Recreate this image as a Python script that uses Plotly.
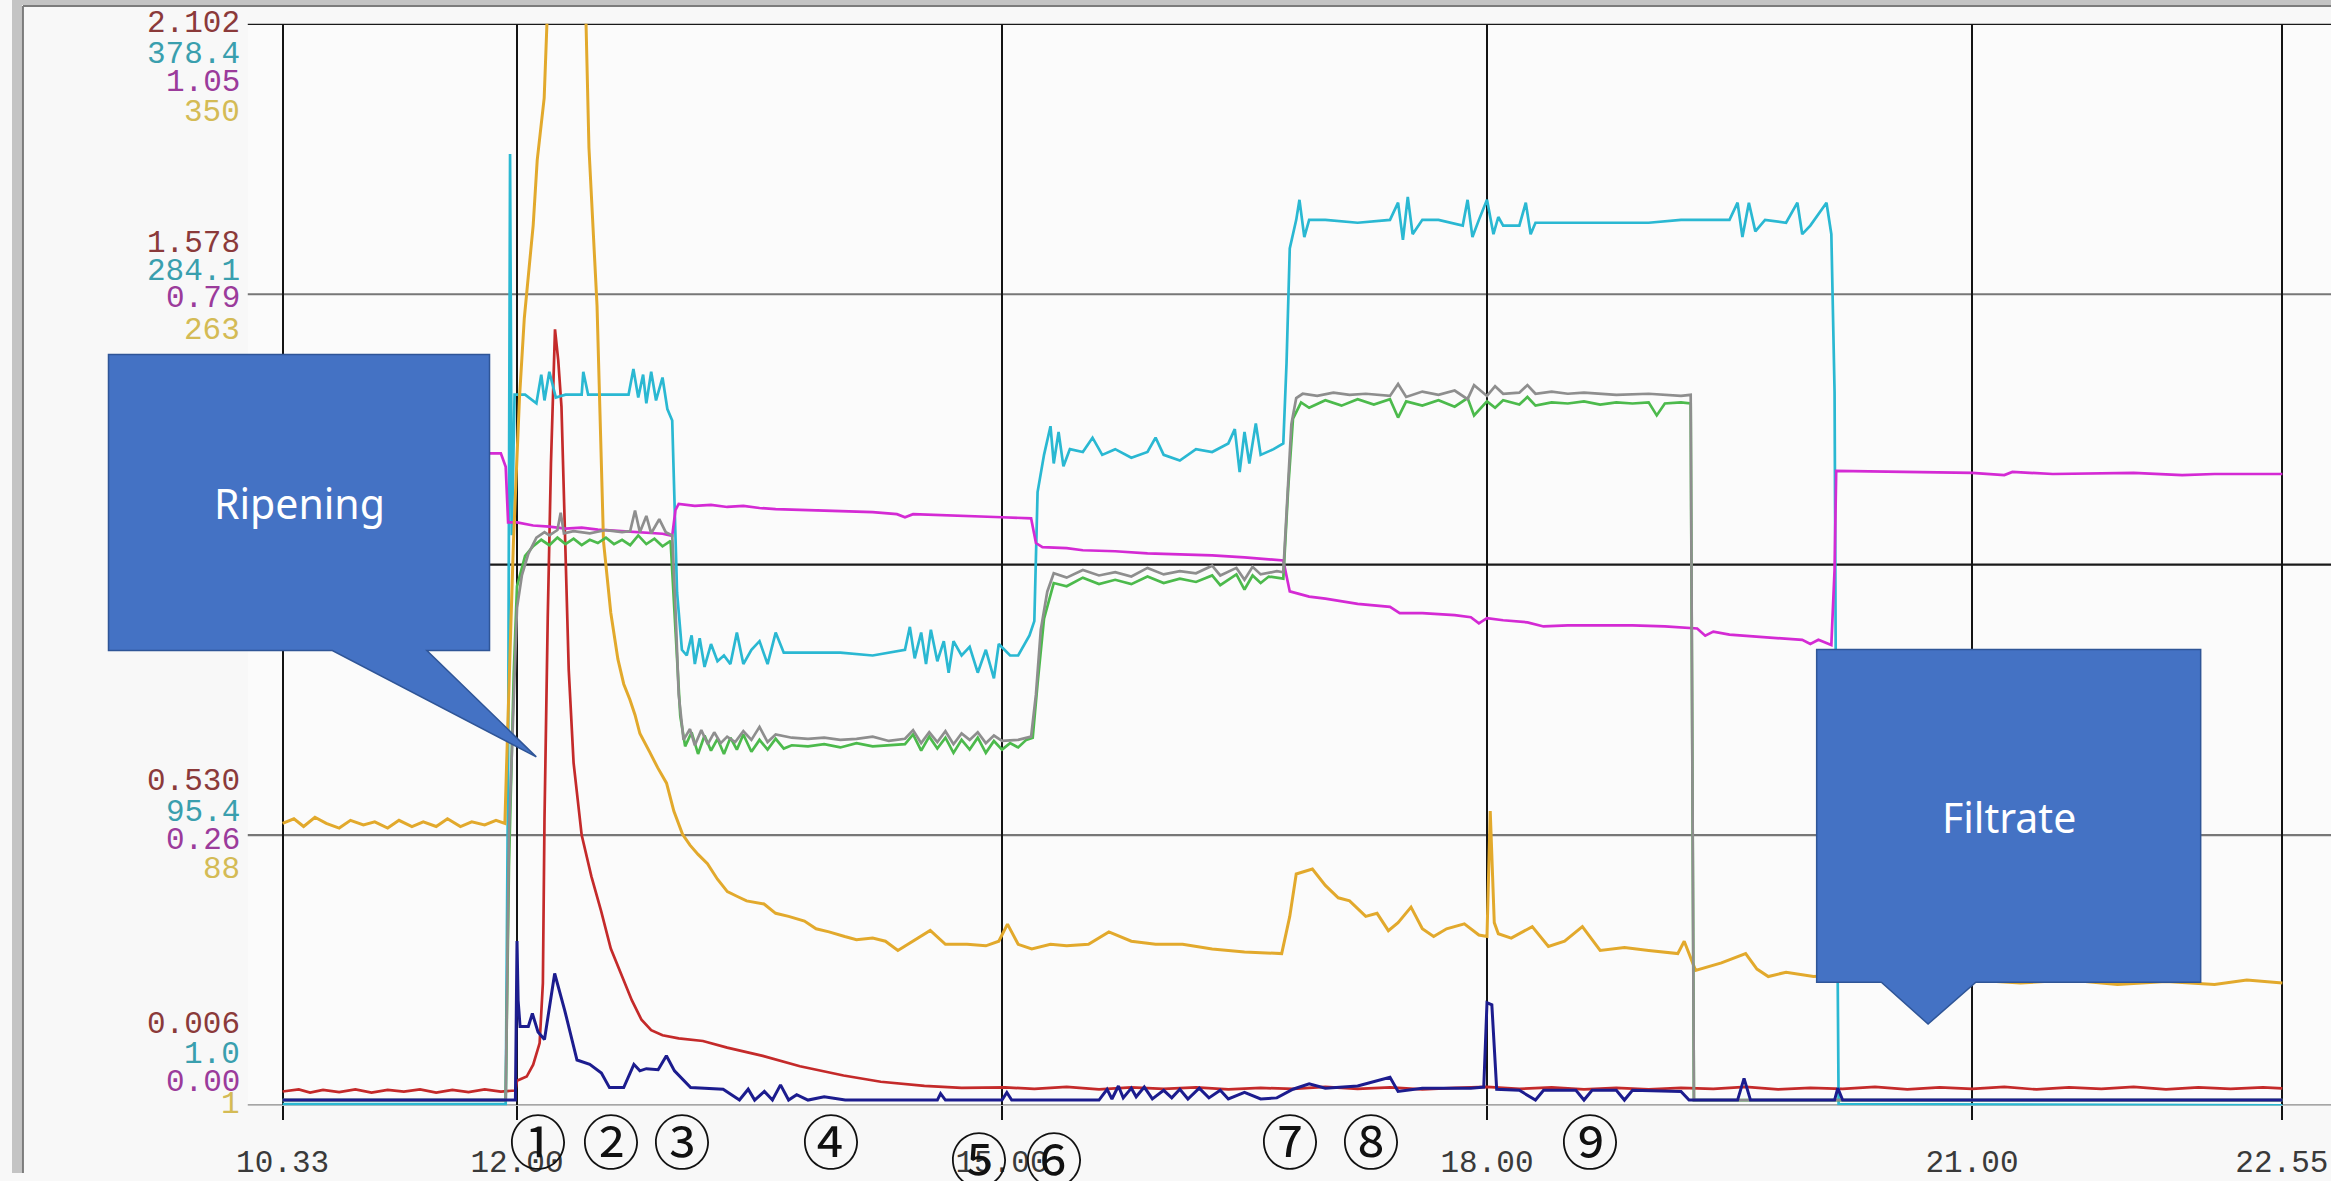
import plotly.graph_objects as go

W, H = 2331, 1181

# ---------------- data ----------------
x_tickvals = [10.55, 12.0, 15.0, 18.0, 21.0, 22.9167]
x_ticktext = ["10.33", "12.00", "15.00", "18.00", "21.00", "22.55"]

red_ticks = [2.102, 1.578, 0.530, 0.006]
red_labels = ["2.102", "1.578", "0.530", "0.006"]
cyan_ticks = [378.4, 284.1, 95.4, 1.0]
cyan_labels = ["378.4", "284.1", "95.4", "1.0"]
mag_ticks = [1.05, 0.79, 0.26, 0.00]
mag_labels = ["1.05", "0.79", "0.26", "0.00"]
yel_ticks = [350, 263, 88, 1]
yel_labels = ["350", "263", "88", "1"]

step_labels = ["①", "②", "③", "④", "⑤", "⑥", "⑦", "⑧", "⑨"]
step_times = [12.13, 12.58, 13.02, 13.94, 14.86, 15.32, 16.78, 17.28, 18.64]

orange = [(10.55,92),(10.62,93.5),(10.68,91),(10.75,94),(10.82,92),(10.9,90.5),(10.97,93),(11.05,91.5),(11.12,92.5),(11.2,90.5),
(11.27,93),(11.35,91),(11.42,92.5),(11.5,91),(11.57,93.5),(11.65,91),(11.72,92.5),(11.8,91.5),(11.87,93),(11.925,92),
(11.935,110),(11.978,183),(12.015,229),(12.045,255),(12.1,285),(12.125,306),(12.168,326),(12.187,350),(12.205,378),(12.3,410),
(12.408,366),(12.427,350),(12.445,310),(12.495,259),(12.535,183),(12.58,160),(12.624,145),(12.66,137),(12.698,132),(12.73,127),
(12.76,121),(12.821,115),(12.87,110),(12.925,105),(12.97,96),(13.024,88.5),(13.07,85),(13.12,82),(13.178,79),(13.24,74),
(13.301,70),(13.36,68.5),(13.42,67),(13.528,66),(13.6,63),(13.68,62),(13.778,60.5),(13.85,58),(13.93,57),(14.027,55.5),
(14.1,54.5),(14.2,55),(14.279,54),(14.356,51),(14.45,54),(14.556,57.5),(14.65,53),(14.784,53),(14.9,52.5),(14.98,54),
(15.034,59.5),(15.1,53),(15.184,51.5),(15.3,53),(15.4,52.5),(15.535,53),(15.661,57),(15.8,54),(15.95,53),(16.117,53),
(16.3,51.5),(16.5,50.5),(16.73,50),(16.78,62),(16.82,75.7),(16.92,77.3),(17.0,72),(17.08,68),(17.15,67),(17.25,62),
(17.32,63),(17.39,57.4),(17.45,60),(17.53,65),(17.6,58),(17.67,55.5),(17.75,58),(17.86,59.6),(17.95,56),(18.0,55.5),
(18.02,96),(18.045,60),(18.07,56.4),(18.15,55),(18.28,58.7),(18.38,52.3),(18.48,54),(18.59,58.7),(18.7,51),(18.85,52),
(19.0,51),(19.18,50),(19.22,54),(19.29,44.6),(19.45,47),(19.6,50),(19.67,45),(19.74,42.6),(19.85,44),(20.02,42.6),
(20.15,43),(20.3,41.5),(20.5,42),(20.7,41),(21.0,41.5),(21.3,40.5),(21.6,41.5),(21.9,40),(22.2,41),(22.5,40),
(22.7,41.5),(22.92,40.5)]

red = [(10.55,.033),(10.65,.037),(10.72,.031),(10.8,.036),(10.9,.032),(11.0,.037),(11.1,.031),(11.2,.036),(11.3,.033),(11.4,.037),
(11.5,.031),(11.6,.036),(11.7,.032),(11.8,.037),(11.9,.033),(11.99,.035),(12.0,.054),(12.06,.062),(12.1,.085),(12.14,.127),
(12.16,.243),(12.17,.56),(12.19,.95),(12.21,1.25),(12.235,1.51),(12.255,1.45),(12.275,1.36),(12.3,1.1),(12.32,.85),(12.35,.67),
(12.4,.53),(12.46,.45),(12.52,.383),(12.58,.31),(12.65,.256),(12.71,.21),(12.77,.172),(12.83,.152),(12.9,.142),(13.0,.136),
(13.15,.131),(13.3,.118),(13.52,.102),(13.75,.082),(14.02,.064),(14.25,.052),(14.52,.044),(14.75,.040),(15.02,.041),(15.2,.038),
(15.4,.042),(15.6,.037),(15.8,.041),(16.0,.038),(16.2,.041),(16.4,.037),(16.6,.040),(16.8,.038),(17.0,.042),(17.2,.038),
(17.4,.041),(17.6,.037),(17.8,.040),(18.0,.042),(18.2,.038),(18.4,.041),(18.6,.037),(18.8,.040),(19.0,.037),(19.2,.040),
(19.4,.038),(19.6,.042),(19.8,.037),(20.0,.040),(20.2,.038),(20.4,.042),(20.6,.037),(20.8,.041),(21.0,.038),(21.2,.042),
(21.4,.037),(21.6,.041),(21.8,.038),(22.0,.042),(22.2,.037),(22.4,.041),(22.6,.038),(22.8,.041),(22.92,.039)]

cyan = [(10.55,1.5),(11.93,1.5),(11.945,120),(11.957,333),(11.968,200),(11.985,249),(12.05,249),(12.12,246),(12.15,256),(12.17,247),
(12.2,257),(12.24,248),(12.3,249),(12.4,249),(12.41,257),(12.44,249),(12.6,249),(12.69,249),(12.72,258),(12.75,248),
(12.78,256),(12.8,246),(12.83,257),(12.86,247),(12.9,255),(12.93,244),(12.96,240),(12.99,180),(13.02,160),(13.05,158),
(13.08,165),(13.1,155),(13.13,164),(13.16,154),(13.2,162),(13.24,156),(13.28,158),(13.32,155),(13.36,166),(13.4,155),
(13.45,160),(13.5,163),(13.55,155),(13.6,166),(13.65,159),(14.0,159),(14.2,158),(14.4,160),(14.43,168),(14.46,157),
(14.5,166),(14.53,155),(14.56,167),(14.6,156),(14.64,163),(14.67,152),(14.7,163),(14.75,158),(14.8,161),(14.85,152),
(14.9,160),(14.95,150),(14.98,162),(15.05,158),(15.1,158),(15.17,165),(15.2,170),(15.22,215),(15.26,228),(15.3,238),
(15.32,225),(15.35,236),(15.38,224),(15.42,230),(15.5,229),(15.56,234),(15.62,228),(15.7,230),(15.8,227),(15.9,229),
(15.95,234),(16.0,228),(16.1,226),(16.2,230),(16.3,229),(16.4,232),(16.44,237),(16.47,222),(16.5,236),(16.53,225),
(16.57,239),(16.6,228),(16.68,230),(16.74,232),(16.76,260),(16.78,300),(16.82,310),(16.84,317),(16.87,304),(16.9,310),
(17.0,310),(17.2,309),(17.4,310),(17.45,316),(17.48,303),(17.51,318),(17.54,305),(17.6,310),(17.7,310),(17.85,308),
(17.88,317),(17.91,304),(17.95,310),(18.0,317),(18.04,305),(18.07,311),(18.1,308),(18.2,308),(18.24,316),(18.27,305),
(18.3,309),(18.5,309),(19.0,309),(19.2,310),(19.5,310),(19.55,316),(19.58,304),(19.62,316),(19.66,306),(19.72,310),
(19.85,309),(19.92,316),(19.95,305),(20.0,308),(20.1,316),(20.13,305),(20.15,250),(20.16,120),(20.175,1.5),(22.92,1.0)]

magenta = [(10.55,0.633),(11.0,0.634),(11.5,0.633),(11.90,0.633),(11.93,0.62),(11.945,0.566),(12.0,0.566),(12.1,0.563),(12.2,0.562),(12.3,0.560),
(12.4,0.561),(12.5,0.559),(12.6,0.558),(12.7,0.557),(12.8,0.556),(12.9,0.555),(12.96,0.553),(12.98,0.578),(13.0,0.584),(13.1,0.582),
(13.2,0.583),(13.3,0.581),(13.4,0.582),(13.5,0.580),(13.6,0.579),(13.8,0.578),(14.0,0.577),(14.2,0.576),(14.35,0.574),(14.4,0.571),
(14.45,0.574),(14.6,0.573),(14.8,0.572),(15.0,0.571),(15.18,0.570),(15.21,0.546),(15.25,0.542),(15.4,0.541),(15.5,0.539),(15.7,0.538),
(15.9,0.536),(16.1,0.535),(16.3,0.534),(16.5,0.532),(16.6,0.531),(16.74,0.529),(16.78,0.499),(16.9,0.494),(17.0,0.492),(17.2,0.487),
(17.4,0.484),(17.46,0.478),(17.6,0.478),(17.8,0.476),(17.9,0.474),(17.95,0.468),(18.0,0.473),(18.1,0.471),(18.25,0.469),(18.35,0.465),
(18.5,0.466),(18.7,0.466),(18.9,0.466),(19.1,0.465),(19.3,0.463),(19.35,0.456),(19.4,0.460),(19.5,0.457),(19.6,0.456),(19.8,0.454),
(19.95,0.452),(20.0,0.448),(20.05,0.452),(20.13,0.447),(20.15,0.52),(20.16,0.616),(20.5,0.615),(21.0,0.614),(21.2,0.612),(21.25,0.615),
(21.5,0.613),(22.0,0.614),(22.3,0.612),(22.5,0.613),(22.92,0.613)]

gray = [(10.55,0.5),(11.93,0.5),(11.95,25),(11.98,38),(12.0,46),(12.03,49),(12.07,51),(12.12,52.5),(12.17,53.0),(12.2,52.7),
(12.25,53.2),(12.27,54.8),(12.29,52.9),(12.35,53.1),(12.45,52.9),(12.55,53.2),(12.65,53.0),(12.7,53.1),(12.73,55.0),(12.76,53.0),
(12.8,54.5),(12.83,52.9),(12.88,54.2),(12.92,53.0),(12.96,52.7),(12.98,46),(13.0,38),(13.03,33.8),(13.07,34.8),(13.1,33.3),
(13.14,34.7),(13.18,33.4),(13.22,34.5),(13.26,33.5),(13.3,34.1),(13.35,33.6),(13.4,34.6),(13.45,33.8),(13.5,35.0),(13.55,33.6),
(13.6,34.3),(13.7,34.0),(13.8,33.9),(13.9,34.0),(14.0,33.8),(14.1,33.9),(14.2,34.1),(14.3,33.7),(14.4,33.9),(14.45,34.7),
(14.5,33.5),(14.55,34.5),(14.6,33.6),(14.65,34.6),(14.7,33.4),(14.75,34.4),(14.8,33.8),(14.85,34.5),(14.9,33.5),(14.95,34.2),
(15.0,33.7),(15.1,33.8),(15.18,34.1),(15.21,38),(15.24,44),(15.28,47.5),(15.32,49.2),(15.4,48.8),(15.5,49.5),(15.6,49.0),
(15.7,49.3),(15.8,48.9),(15.9,49.7),(16.0,49.1),(16.1,49.4),(16.2,49.2),(16.3,49.9),(16.35,49.0),(16.45,49.7),(16.5,48.6),
(16.55,49.8),(16.6,49.1),(16.7,49.4),(16.74,49.3),(16.76,55),(16.79,63),(16.82,65.4),(16.86,65.8),(16.95,65.6),(17.05,65.9),
(17.15,65.7),(17.25,65.8),(17.4,65.6),(17.45,66.7),(17.5,65.5),(17.6,66.0),(17.7,65.7),(17.8,66.1),(17.88,65.3),(17.92,66.6),
(18.0,65.6),(18.05,66.5),(18.1,65.8),(18.2,65.9),(18.25,66.6),(18.3,65.8),(18.4,66.0),(18.5,65.8),(18.6,65.9),(18.8,65.7),
(19.0,65.8),(19.2,65.6),(19.26,65.7),(19.27,30),(19.28,0.5),(22.92,0.5)]

green = [(10.55,0.5),(11.93,0.5),(11.95,22),(11.98,40),(12.0,48),(12.05,50.8),(12.1,51.7),(12.15,52.3),(12.2,51.8),(12.25,52.5),
(12.3,51.9),(12.35,52.4),(12.4,51.8),(12.45,52.3),(12.5,52.0),(12.55,52.5),(12.6,51.9),(12.65,52.3),(12.7,51.8),(12.75,52.7),
(12.8,51.9),(12.85,52.4),(12.9,51.7),(12.95,52.2),(12.98,44),(13.01,36),(13.04,33.2),(13.08,34.5),(13.12,32.5),(13.16,34.2),
(13.2,32.8),(13.24,33.9),(13.28,32.5),(13.32,34.0),(13.36,32.9),(13.4,34.3),(13.45,32.7),(13.5,33.8),(13.55,32.9),(13.6,33.9),
(13.65,33.0),(13.7,33.3),(13.8,33.2),(13.9,33.4),(14.0,33.1),(14.1,33.5),(14.2,33.2),(14.3,33.3),(14.4,33.4),(14.45,34.3),
(14.5,32.8),(14.55,34.1),(14.6,33.0),(14.65,34.0),(14.7,32.6),(14.75,33.8),(14.8,32.9),(14.85,34.0),(14.9,32.6),(14.95,33.7),
(15.0,32.9),(15.05,33.5),(15.1,33.1),(15.15,33.8),(15.19,34.0),(15.22,39),(15.26,45),(15.32,48.3),(15.4,48.0),(15.5,48.8),
(15.6,48.2),(15.7,48.6),(15.8,48.2),(15.9,48.9),(16.0,48.3),(16.1,48.7),(16.2,48.4),(16.3,49.0),(16.35,48.1),(16.45,49.1),
(16.5,47.7),(16.55,49.0),(16.6,48.3),(16.65,48.9),(16.74,48.7),(16.77,57),(16.8,63.5),(16.85,65.0),(16.9,64.5),(17.0,65.2),
(17.1,64.7),(17.2,65.3),(17.3,64.8),(17.4,65.3),(17.45,63.6),(17.5,65.1),(17.6,64.7),(17.7,65.2),(17.8,64.6),(17.88,65.4),
(17.92,63.8),(18.0,65.1),(18.05,64.5),(18.1,65.2),(18.2,64.8),(18.25,65.5),(18.3,64.7),(18.4,65.0),(18.5,64.9),(18.6,65.1),
(18.7,64.8),(18.8,65.0),(18.9,64.9),(19.0,65.0),(19.05,63.8),(19.1,64.9),(19.2,65.0),(19.26,64.9),(19.27,30),(19.28,0.5),
(22.92,0.5)]

navy = [(10.55,0.5),(11.99,0.5),(12.0,15.2),(12.007,9.7),(12.019,7.3),(12.07,7.3),(12.095,8.5),(12.13,6.8),(12.17,6.1),(12.233,12.2),
(12.295,8.8),(12.371,4.2),(12.45,3.8),(12.522,3.0),(12.572,1.65),(12.66,1.65),(12.723,3.8),(12.76,3.2),(12.8,3.4),(12.873,3.3),
(12.924,4.6),(12.974,3.2),(13.074,1.65),(13.275,1.5),(13.376,0.5),(13.43,1.5),(13.47,0.5),(13.53,1.3),(13.58,0.5),(13.63,1.9),
(13.68,0.5),(13.73,1.0),(13.8,0.5),(13.9,0.8),(14.03,0.5),(14.6,0.5),(14.62,1.1),(14.65,0.5),(15.0,0.5),(15.03,1.2),
(15.06,0.5),(15.6,0.5),(15.65,1.5),(15.68,0.6),(15.72,1.8),(15.75,0.7),(15.8,1.6),(15.83,0.8),(15.88,1.7),(15.93,0.6),
(16.0,1.4),(16.05,0.7),(16.1,1.5),(16.15,0.6),(16.22,1.6),(16.28,0.7),(16.35,1.4),(16.4,0.6),(16.5,1.2),(16.6,0.6),
(16.7,0.7),(16.76,1.2),(16.8,1.5),(16.9,2.0),(17.0,1.6),(17.2,1.8),(17.4,2.6),(17.45,1.3),(17.6,1.6),(17.9,1.6),
(17.98,1.7),(18.0,9.5),(18.03,9.3),(18.06,1.5),(18.2,1.4),(18.3,0.5),(18.35,1.4),(18.55,1.4),(18.6,0.5),(18.65,1.4),
(18.8,1.4),(18.85,0.5),(18.9,1.4),(19.2,1.3),(19.25,0.5),(19.55,0.5),(19.59,2.5),(19.63,0.5),(20.15,0.5),(20.17,1.6),
(20.2,0.5),(22.92,0.5)]

# ---------------- layout geometry (pixels) ----------------
PL, PR, PT, PB = 237, 2331, 24, 1113          # plot area
PX_PER_H = 162.5
X0_DATA_PX = 272
x_range = [10.55 - (X0_DATA_PX - PL) / PX_PER_H, 10.55 + (PR - X0_DATA_PX) / PX_PER_H]


def px(x):
    return x / W


def py(y):
    return 1 - y / H


fig = go.Figure()

def add(series, color, axis, width=2.7):
    fig.add_trace(go.Scatter(
        x=[p[0] for p in series], y=[p[1] for p in series], mode="lines",
        line=dict(color=color, width=width), yaxis=axis, hoverinfo="skip", showlegend=False))

add(green, "#4cba4c", "y5")
add(gray, "#8e8e8e", "y5")
add(magenta, "#d42ad4", "y3")
add(cyan, "#2ab8d2", "y2")
add(orange, "#e2a92c", "y4", 3.0)
add(red, "#c42a2a", "y")
add(navy, "#1c1c8e", "y5", 3.0)

# horizontal reference lines
hl_cols = {0: "#8a8a8a", 25: "#777777", 50: "#1a1a1a", 75: "#777777", 100: "#1a1a1a"}
shapes = []
for v, c in hl_cols.items():
    shapes.append(dict(type="line", xref="paper", yref="y5", x0=px(PL), x1=1.0, y0=v, y1=v,
                       line=dict(color=c, width=2.2), layer="below"))

# frame borders
shapes.append(dict(type="rect", xref="paper", yref="paper", x0=0, x1=px(10), y0=0, y1=1,
                   fillcolor="#c4c4c4", line=dict(width=0), layer="above"))
shapes.append(dict(type="rect", xref="paper", yref="paper", x0=0, x1=1, y0=py(5), y1=1,
                   fillcolor="#c4c4c4", line=dict(width=0), layer="above"))
shapes.append(dict(type="line", xref="paper", yref="paper", x0=px(11), x1=px(11), y0=0, y1=py(6),
                   line=dict(color="#7c7c7c", width=2), layer="above"))
shapes.append(dict(type="line", xref="paper", yref="paper", x0=px(11), x1=1, y0=py(6), y1=py(6),
                   line=dict(color="#7c7c7c", width=2), layer="above"))


def callout(pts):
    d = "M " + " L ".join(f"{px(x):.5f},{py(y):.5f}" for x, y in pts) + " Z"
    return dict(type="path", xref="paper", yref="paper", path=d, fillcolor="#4472C4",
                line=dict(color="#2F5597", width=1.5), layer="above")

shapes.append(callout([(97, 357), (480, 357), (480, 655), (417, 655), (527, 762), (322, 655), (97, 655)]))
shapes.append(callout([(1814, 654), (2200, 654), (2200, 989), (1974, 989), (1926, 1031), (1879, 989), (1814, 989)]))

annotations = []
# multi-scale left labels
label_sets = [
    ("y", red_ticks, red_labels, "#8b3a3a", [0, 51, 54, 81]),
    ("y2", cyan_ticks, cyan_labels, "#3a9fae", [-31, 23, 22, 51]),
    ("y3", mag_ticks, mag_labels, "#9b3b9b", [-59, -7, -3, 23]),
    ("y4", yel_ticks, yel_labels, "#d4bb55", [-89, -37, -34, 1]),
]
for ax, vals, labs, col, shifts in label_sets:
    for v, lab, s in zip(vals, labs, shifts):
        annotations.append(dict(xref="paper", yref=ax, x=px(231), y=v, text=lab, showarrow=False,
                                xanchor="right", yanchor="middle", yshift=s,
                                font=dict(family="Liberation Mono", size=31, color=col)))

for lab, t, yy in zip(step_labels, step_times, [1147, 1147, 1147, 1147, 1165, 1165, 1147, 1147, 1147]):
    annotations.append(dict(xref="x", yref="paper", x=t, y=py(yy), text=lab, showarrow=False,
                            xanchor="center", yanchor="middle",
                            font=dict(family="Noto Sans CJK JP", size=58, color="#111111")))

annotations.append(dict(xref="paper", yref="paper", x=px(289), y=py(506), text="Ripening", showarrow=False,
                        xanchor="center", yanchor="middle",
                        font=dict(family="Noto Sans", size=41, color="white")))
annotations.append(dict(xref="paper", yref="paper", x=px(2007), y=py(823), text="Filtrate", showarrow=False,
                        xanchor="center", yanchor="middle",
                        font=dict(family="Noto Sans", size=41, color="white")))

dom_y = [py(PB), py(PT)]
fig.update_layout(
    width=W, height=H, autosize=False,
    margin=dict(l=0, r=0, t=0, b=0),
    paper_bgcolor="#f8f8f8", plot_bgcolor="#fbfbfb",
    showlegend=False,
    shapes=shapes, annotations=annotations,
    xaxis=dict(domain=[px(PL), 1.0], range=x_range, tickvals=x_tickvals, ticktext=x_ticktext,
               showgrid=True, gridcolor="#141414", gridwidth=2, zeroline=False, showline=False,
               ticks="outside", ticklen=14, tickwidth=2, tickcolor="#141414", ticklabelstandoff=14,
               tickfont=dict(family="Liberation Mono", size=31, color="#3a3a3a")),
    yaxis=dict(domain=dom_y, range=[0.006, 2.102], visible=False, fixedrange=True),
    yaxis2=dict(overlaying="y", range=[1.0, 378.4], visible=False),
    yaxis3=dict(overlaying="y", range=[0.0, 1.05], visible=False),
    yaxis4=dict(overlaying="y", range=[1, 350], visible=False),
    yaxis5=dict(overlaying="y", range=[0, 100], visible=False),
)

fig.write_html("out.html", config={"displayModeBar": False},
               post_script="document.body.style.margin='0';document.body.style.padding='0';"
                           "document.body.style.overflow='hidden';")
